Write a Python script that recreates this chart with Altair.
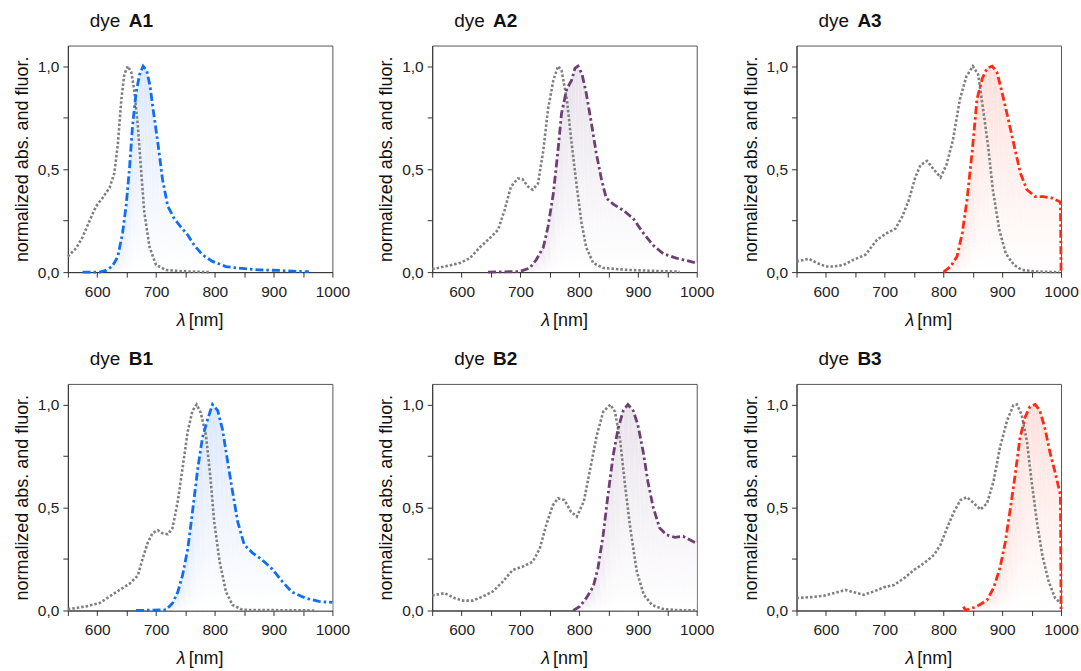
import altair as alt
import pandas as pd

# ---------------- data ----------------
A1_abs_nm = [550, 564, 575, 587, 598, 609, 621, 629, 635, 641, 646, 652, 658, 663, 669, 675, 680, 689, 700, 717, 745, 791]
A1_abs_val = [0.076, 0.116, 0.17, 0.25, 0.32, 0.36, 0.41, 0.48, 0.62, 0.84, 0.96, 1.0, 0.97, 0.88, 0.71, 0.48, 0.29, 0.12, 0.035, 0.01, 0.004, 0.0]
A1_em_nm = [575, 604, 615, 626, 635, 643, 649, 655, 660, 666, 672, 678, 684, 690, 695, 703, 711, 720, 731, 742, 754, 765, 779, 796, 819, 841, 875, 909, 943, 960]
A1_em_val = [0, 0, 0.008, 0.03, 0.076, 0.19, 0.32, 0.51, 0.71, 0.87, 0.96, 1.0, 0.98, 0.90, 0.79, 0.63, 0.45, 0.32, 0.26, 0.22, 0.18, 0.13, 0.084, 0.052, 0.027, 0.019, 0.011, 0.008, 0.003, 0.002]

A2_abs_nm = [550, 573, 597, 614, 631, 648, 662, 673, 684, 696, 704, 713, 721, 730, 739, 747, 756, 764, 770, 779, 787, 796, 804, 812, 824, 841, 881, 937, 971]
A2_abs_val = [0.015, 0.028, 0.044, 0.068, 0.12, 0.165, 0.205, 0.30, 0.415, 0.455, 0.45, 0.415, 0.40, 0.43, 0.59, 0.79, 0.93, 1.0, 0.98, 0.84, 0.63, 0.415, 0.24, 0.12, 0.044, 0.02, 0.011, 0.005, 0.002]
A2_em_nm = [645, 699, 716, 727, 739, 747, 756, 764, 770, 779, 787, 793, 798, 805, 812, 821, 829, 838, 846, 858, 875, 892, 909, 926, 943, 965, 1000]
A2_em_val = [0, 0.003, 0.02, 0.06, 0.12, 0.22, 0.38, 0.59, 0.77, 0.89, 0.93, 0.99, 1.0, 0.96, 0.87, 0.72, 0.58, 0.45, 0.36, 0.33, 0.30, 0.26, 0.19, 0.13, 0.09, 0.068, 0.044]

A3_abs_nm = [550, 571, 585, 600, 613, 630, 647, 667, 687, 704, 718, 730, 741, 752, 761, 772, 783, 795, 805, 816, 828, 839, 850, 859, 867, 876, 884, 895, 906, 920, 934, 957, 997]
A3_abs_val = [0.052, 0.065, 0.044, 0.027, 0.027, 0.035, 0.06, 0.084, 0.157, 0.19, 0.21, 0.27, 0.35, 0.46, 0.52, 0.54, 0.50, 0.46, 0.52, 0.64, 0.84, 0.95, 1.0, 0.96, 0.80, 0.61, 0.40, 0.205, 0.09, 0.035, 0.01, 0.003, 0.0]
A3_em_nm = [800, 812, 823, 832, 840, 849, 857, 866, 874, 883, 891, 899, 908, 919, 931, 942, 956, 970, 984, 999, 1000]
A3_em_val = [0, 0.027, 0.076, 0.19, 0.35, 0.59, 0.84, 0.94, 0.99, 1.0, 0.97, 0.88, 0.77, 0.63, 0.48, 0.40, 0.367, 0.367, 0.36, 0.34, 0]

B1_abs_nm = [550, 581, 604, 621, 638, 655, 669, 677, 686, 694, 703, 711, 720, 728, 737, 745, 754, 762, 769, 776, 785, 792, 799, 808, 819, 830, 847, 887, 972]
B1_abs_val = [0.006, 0.02, 0.036, 0.068, 0.10, 0.13, 0.17, 0.25, 0.33, 0.375, 0.39, 0.375, 0.37, 0.40, 0.53, 0.69, 0.87, 0.97, 1.0, 0.96, 0.85, 0.66, 0.43, 0.24, 0.09, 0.027, 0.003, 0.002, 0.0]
B1_em_nm = [666, 717, 728, 737, 745, 754, 762, 771, 779, 788, 796, 805, 813, 822, 830, 839, 850, 864, 881, 898, 915, 931, 954, 977, 1000]
B1_em_val = [0, 0.003, 0.035, 0.09, 0.17, 0.30, 0.48, 0.69, 0.84, 0.93, 1.0, 0.97, 0.88, 0.72, 0.58, 0.43, 0.32, 0.28, 0.245, 0.20, 0.14, 0.09, 0.06, 0.044, 0.039]

B2_abs_nm = [550, 571, 588, 602, 619, 636, 653, 670, 687, 704, 721, 733, 744, 755, 764, 775, 786, 796, 808, 819, 830, 841, 853, 861, 870, 878, 887, 898, 910, 924, 941, 963, 1000]
B2_abs_val = [0.073, 0.084, 0.06, 0.048, 0.048, 0.068, 0.092, 0.14, 0.197, 0.213, 0.237, 0.30, 0.415, 0.51, 0.545, 0.536, 0.48, 0.456, 0.53, 0.69, 0.85, 0.965, 1.0, 0.965, 0.82, 0.61, 0.40, 0.19, 0.076, 0.027, 0.008, 0.002, 0.0]
B2_em_nm = [790, 801, 812, 824, 832, 841, 849, 858, 866, 875, 883, 892, 900, 909, 917, 926, 937, 949, 963, 977, 988, 1000]
B2_em_val = [0, 0.02, 0.06, 0.116, 0.205, 0.37, 0.56, 0.755, 0.88, 0.97, 1.0, 0.97, 0.90, 0.77, 0.625, 0.50, 0.40, 0.367, 0.355, 0.36, 0.343, 0.326]

B3_abs_nm = [550, 574, 596, 613, 633, 647, 664, 681, 699, 716, 733, 750, 767, 784, 795, 806, 818, 829, 840, 852, 863, 874, 885, 896, 908, 919, 925, 933, 942, 950, 959, 968, 979, 990, 999]
B3_abs_val = [0.06, 0.065, 0.071, 0.084, 0.10, 0.089, 0.076, 0.092, 0.113, 0.124, 0.157, 0.197, 0.23, 0.27, 0.32, 0.40, 0.48, 0.536, 0.55, 0.52, 0.49, 0.52, 0.625, 0.79, 0.92, 0.997, 1.0, 0.95, 0.82, 0.625, 0.43, 0.27, 0.14, 0.06, 0.036]
B3_em_nm = [834, 837, 843, 857, 874, 885, 896, 905, 913, 922, 930, 939, 947, 956, 964, 973, 981, 990, 999, 1000]
B3_em_val = [0.019, 0.003, 0.006, 0.02, 0.05, 0.108, 0.205, 0.33, 0.48, 0.66, 0.835, 0.94, 0.99, 1.0, 0.97, 0.88, 0.77, 0.67, 0.56, 0]

labels = ["A1", "A2", "A3", "B1", "B2", "B3"]
em_colors = ["#0F6FEF", "#6E3F72", "#FF2A12", "#0F6FEF", "#6E3F72", "#FF2A12"]
em_tints = ["#DCE7FB", "#E9E3EC", "#FDE0DC", "#DCE7FB", "#E9E3EC", "#FDE0DC"]
x_ticks = [550, 600, 650, 700, 750, 800, 850, 900, 950, 1000]
y_ticks = [0.0, 0.25, 0.5, 0.75, 1.0]
y_title = "normalized abs. and fluor."

FONT = "Liberation Sans"
W, H = 265, 227


def panel(label, abs_nm, abs_val, em_nm, em_val, color, tint):
    abs_df = pd.DataFrame({"nm": abs_nm, "v": abs_val, "i": range(len(abs_nm))})
    em_df = pd.DataFrame({"nm": em_nm, "v": em_val, "i": range(len(em_nm))})
    x = alt.X("nm:Q",
              scale=alt.Scale(domain=[550, 1000], nice=False, zero=False),
              axis=alt.Axis(values=x_ticks, format="d", title=None,
                            labelExpr="datum.value % 100 == 0 ? datum.label : ''",
                            labelPadding=7, labelFlush=False))
    y = alt.Y("v:Q",
              scale=alt.Scale(domain=[0, 1.1], nice=False),
              axis=alt.Axis(values=y_ticks, title=y_title, titlePadding=6,
                            labelExpr="(datum.value * 2) % 1 == 0 ? replace(format(datum.value, '.1f'), '.', ',') : ''",
                            labelPadding=4, labelFlush=False))
    area = alt.Chart(em_df).mark_area(
        fill=alt.Gradient(gradient="linear",
                          stops=[alt.GradientStop(color=tint, offset=0),
                                 alt.GradientStop(color="#ffffff", offset=1)],
                          x1=0, x2=0, y1=0, y2=1),
        strokeWidth=0,
    ).encode(x=x, y=y, order="i:Q")
    gray = alt.Chart(abs_df).mark_line(
        color="#7F7F7F", strokeDash=[2.5, 2], strokeWidth=2.6
    ).encode(x=x, y=y, order="i:Q")
    em = alt.Chart(em_df).mark_line(
        color=color, strokeDash=[8, 3, 2.5, 3], strokeWidth=2.8
    ).encode(x=x, y=y, order="i:Q")

    def txt(s, xp, yp, align="left", weight="normal", style="normal", size=19):
        return alt.Chart(pd.DataFrame({"t": [s]})).mark_text(
            align=align, baseline="alphabetic", font=FONT, fontSize=size,
            fontWeight=weight, fontStyle=style, color="#111111"
        ).encode(x=alt.value(xp), y=alt.value(yp), text="t:N")

    t1 = txt("dye", 22, -19)
    t2 = txt(label, 61, -19, weight="bold")
    t3 = txt("λ", 118, H + 54, align="right", style="italic", size=18)
    t4 = txt("[nm]", 121, H + 54, size=18)
    return alt.layer(area, gray, em, t1, t2, t3, t4).properties(width=W, height=H)


data = [
    (A1_abs_nm, A1_abs_val, A1_em_nm, A1_em_val),
    (A2_abs_nm, A2_abs_val, A2_em_nm, A2_em_val),
    (A3_abs_nm, A3_abs_val, A3_em_nm, A3_em_val),
    (B1_abs_nm, B1_abs_val, B1_em_nm, B1_em_val),
    (B2_abs_nm, B2_abs_val, B2_em_nm, B2_em_val),
    (B3_abs_nm, B3_abs_val, B3_em_nm, B3_em_val),
]
panels = [panel(labels[k], *data[k], em_colors[k], em_tints[k]) for k in range(6)]

chart = alt.concat(
    *panels, columns=3, spacing={"row": 112, "column": 100}, bounds="flush"
).properties(
    padding={"left": 12, "top": 10, "right": 2, "bottom": 2}
).configure_view(
    stroke="#555555", strokeWidth=1
).configure_axis(
    grid=False, domainColor="#333333", tickColor="#333333", tickSize=5,
    labelFont=FONT, labelFontSize=15.5, labelColor="#222222",
    titleFont=FONT, titleFontSize=18, titleFontWeight="normal", titleColor="#111111",
)

chart.save("out.html", embed_options={"renderer": "svg", "actions": False})
